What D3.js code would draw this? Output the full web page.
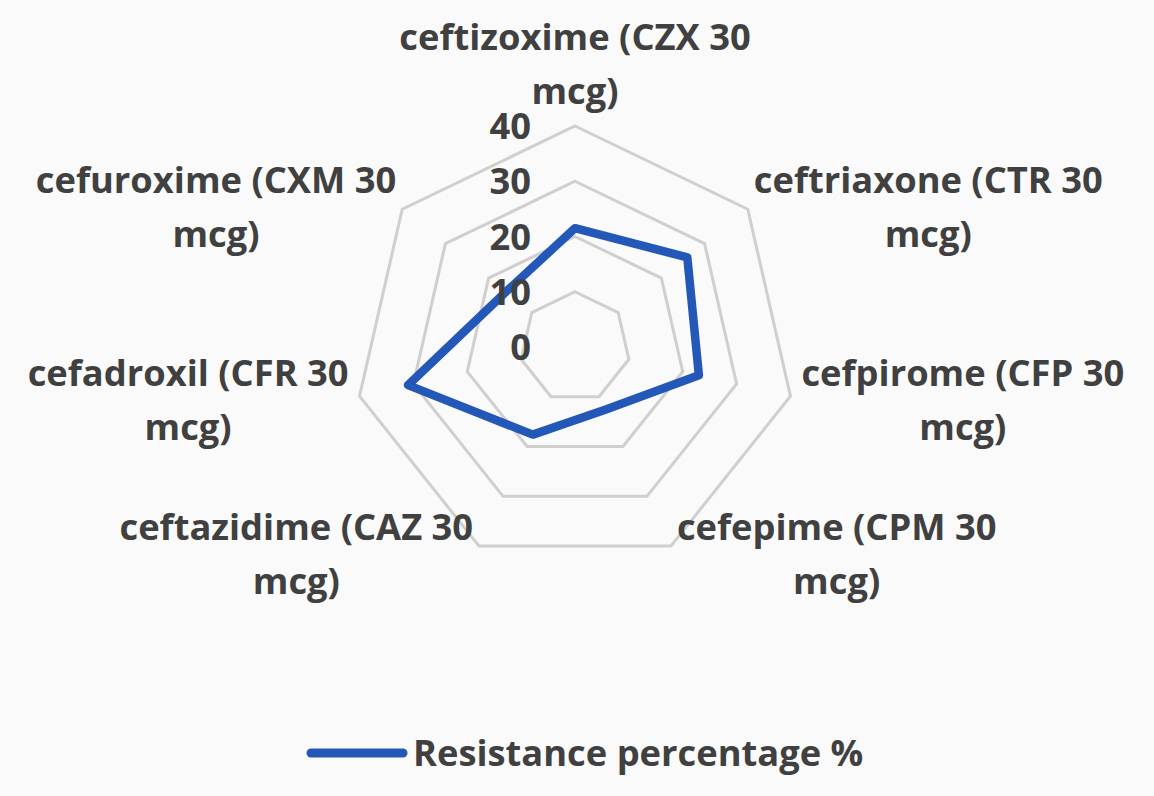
<!DOCTYPE html>
<html><head><meta charset="utf-8">
<script src="https://cdn.jsdelivr.net/npm/d3@7"></script>
<style>
html,body{margin:0;padding:0;background:#fafafa;}
svg{display:block;}
text{font-family:"Open Sans",sans-serif;font-weight:700;fill:#404040;}
</style></head>
<body>
<svg id="chart" width="1154" height="796"></svg>
<script>
const categories = [
  ["ceftizoxime (CZX 30","mcg)"],
  ["ceftriaxone (CTR 30","mcg)"],
  ["cefpirome (CFP 30","mcg)"],
  ["cefepime (CPM 30","mcg)"],
  ["ceftazidime (CAZ 30","mcg)"],
  ["cefadroxil (CFR 30","mcg)"],
  ["cefuroxime (CXM 30","mcg)"]
];
const values = [21.5, 26, 23, 12.6, 17.6, 31, 16];
const ticks = [0, 10, 20, 30, 40];
const seriesName = "Resistance percentage %";

const svg = d3.select("#chart");
const cx = 575, cy = 347, R = 221;
const fs = 36.3;
const n = categories.length;
const r = d3.scaleLinear().domain([0, 40]).range([0, R]);
const ang = d3.scaleLinear().domain([0, n]).range([0, 2*Math.PI]);
const pt = (i, v) => [cx + r(v)*Math.sin(ang(i)), cy - r(v)*Math.cos(ang(i))];

const g = svg.append("g");
// grid rings
g.selectAll("path.ring").data(ticks.filter(t => t > 0)).join("path")
  .attr("class","ring")
  .attr("d", t => d3.line()(d3.range(n).map(i => pt(i, t))) + "Z")
  .attr("fill","none").attr("stroke","#cfcfcf").attr("stroke-width",3);

// series
g.append("path")
  .attr("d", d3.line()(values.map((v,i) => pt(i, v))) + "Z")
  .attr("fill","none").attr("stroke","#2458b8").attr("stroke-width",8.5)
  .attr("stroke-linejoin","round");

// tick labels
g.selectAll("text.tick").data(ticks).join("text")
  .attr("class","tick")
  .attr("x", cx - 44).attr("y", t => cy - r(t))
  .attr("dy","0.36em")
  .attr("text-anchor","end")
  .style("font-size", fs + "px")
  .text(t => t);

// category labels
const lineH = 54;
categories.forEach((lines, i) => {
  const a = ang(i);
  const s = Math.sin(a), c = Math.cos(a);
  const [vx, vy] = pt(i, 40);
  const t = g.append("text").style("font-size", fs + "px").attr("text-anchor","middle");
  const sp = lines.map(l => t.append("tspan").text(l));
  const w = d3.max(sp.map(x => x.node().getComputedTextLength()));
  let bx, y1;
  if (Math.abs(s) < 0.05) { bx = vx; y1 = vy - 89; }
  else {
    const gap = Math.abs(c) < 0.5 ? 11 : 6;
    bx = s > 0 ? vx + gap + w/2 : vx - gap - w/2;
    y1 = vy - lineH/2 + 2.1 - 6.56 * c;
  }
  sp.forEach((x, k) => x.attr("x", bx).attr("y", y1 + k*lineH).attr("dy","0.36em"));
});

// legend
const lg = svg.append("g");
const ly = 753;
lg.append("line").attr("x1", 311).attr("x2", 403).attr("y1", ly).attr("y2", ly)
  .attr("stroke","#2458b8").attr("stroke-width",9).attr("stroke-linecap","round");
lg.append("text").attr("x", 413).attr("y", ly).attr("dy","0.36em")
  .style("font-size", fs + "px").text(seriesName);
</script>
</body></html>
